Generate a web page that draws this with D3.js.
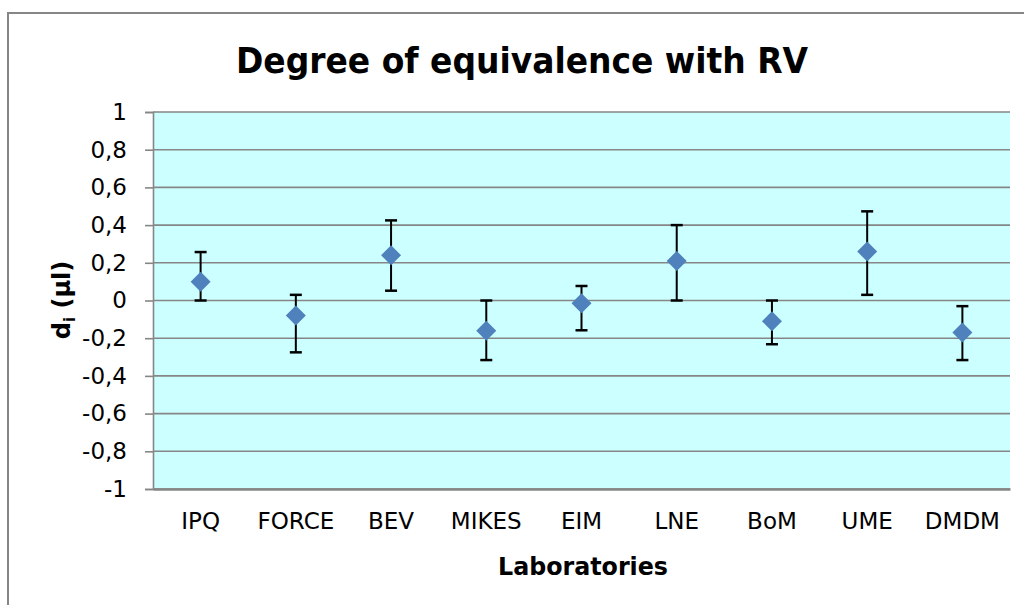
<!DOCTYPE html>
<html>
<head>
<meta charset="utf-8">
<script src="https://cdn.jsdelivr.net/npm/d3@7"></script>
<style>
  body { margin: 0; background: #fff; overflow: hidden; }
  text { font-family: "DejaVu Sans", Verdana, sans-serif; }
</style>
</head>
<body>
<script>
// data
const labs  = ['IPQ', 'FORCE', 'BEV', 'MIKES', 'EIM', 'LNE', 'BoM', 'UME', 'DMDM'];
const di    = [0.10, -0.08, 0.24, -0.16, -0.015, 0.21, -0.11, 0.26, -0.17];
const upper = [0.257, 0.03, 0.425, 0.0, 0.077, 0.40, 0.0, 0.473, -0.03];
const lower = [0.0, -0.275, 0.052, -0.316, -0.158, 0.0, -0.232, 0.03, -0.316];
const yTicks = [-1, -0.8, -0.6, -0.4, -0.2, 0, 0.2, 0.4, 0.6, 0.8, 1];

const width = 1024, height = 605;
const plot = {left: 153, right: 1010, top: 112, bottom: 489};

const svg = d3.select('body').append('svg')
    .attr('width', width)
    .attr('height', height);

// outer chart frame (runs off the right/bottom edge)
svg.append('rect')
    .attr('x', 8)
    .attr('y', 13)
    .attr('width', 1040)
    .attr('height', 640)
    .attr('fill', '#fff')
    .attr('stroke', '#868686')
    .attr('stroke-width', 2);

const x = d3.scaleBand()
    .domain(labs)
    .range([plot.left, plot.right]);

const y = d3.scaleLinear()
    .domain([-1, 1])
    .range([plot.bottom, plot.top]);

// plot area
svg.append('rect')
    .attr('x', plot.left)
    .attr('y', plot.top)
    .attr('width', plot.right - plot.left)
    .attr('height', plot.bottom - plot.top)
    .attr('fill', '#ccffff');

// gridlines
svg.append('g')
  .selectAll('line')
  .data(yTicks)
  .join('line')
    .attr('x1', plot.left)
    .attr('x2', plot.right)
    .attr('y1', d => y(d))
    .attr('y2', d => y(d))
    .attr('stroke', '#868686')
    .attr('stroke-width', 1.6);

// y axis
const yAxis = svg.append('g')
    .attr('transform', 'translate(' + plot.left + ',0)')
    .call(d3.axisLeft(y)
      .tickValues(yTicks)
      .tickSize(8)
      .tickPadding(18)
      .tickFormat(d => d3.format('.1~f')(d).replace('.', ',').replace('−', '-')));
yAxis.select('.domain')
    .attr('stroke', '#868686')
    .attr('stroke-width', 1.6);
yAxis.selectAll('.tick line')
    .attr('stroke', '#868686')
    .attr('stroke-width', 1.6);
yAxis.selectAll('.tick text')
    .attr('font-size', 23)
    .attr('fill', '#000')
    .style('font-family', '"DejaVu Sans", Verdana, sans-serif');

// x axis
const xAxis = svg.append('g')
    .attr('transform', 'translate(0,' + plot.bottom + ')')
    .call(d3.axisBottom(x).tickSize(0).tickPadding(24));
xAxis.select('.domain')
    .attr('stroke', '#868686')
    .attr('stroke-width', 2.4);
xAxis.selectAll('.tick text')
    .attr('font-size', 23)
    .attr('fill', '#000')
    .style('font-family', '"DejaVu Sans", Verdana, sans-serif');

// error bars
const cx = d => x(d) + x.bandwidth() / 2;
const bars = svg.append('g')
  .selectAll('g')
  .data(labs)
  .join('g');
bars.append('line')
    .attr('x1', cx).attr('x2', cx)
    .attr('y1', (d, i) => y(upper[i]))
    .attr('y2', (d, i) => y(lower[i]))
    .attr('stroke', '#000')
    .attr('stroke-width', 2);
bars.append('line')
    .attr('x1', d => cx(d) - 6).attr('x2', d => cx(d) + 6)
    .attr('y1', (d, i) => y(upper[i]))
    .attr('y2', (d, i) => y(upper[i]))
    .attr('stroke', '#000')
    .attr('stroke-width', 2.5);
bars.append('line')
    .attr('x1', d => cx(d) - 6).attr('x2', d => cx(d) + 6)
    .attr('y1', (d, i) => y(lower[i]))
    .attr('y2', (d, i) => y(lower[i]))
    .attr('stroke', '#000')
    .attr('stroke-width', 2.5);

// diamonds
svg.append('g')
  .selectAll('path')
  .data(labs)
  .join('path')
    .attr('d', 'M 0 -10 L 10 0 L 0 10 L -10 0 Z')
    .attr('transform', (d, i) => 'translate(' + cx(d) + ',' + y(di[i]) + ')')
    .attr('fill', '#4f81bd');

// titles
svg.append('text')
    .attr('x', 522)
    .attr('y', 73)
    .attr('text-anchor', 'middle')
    .attr('font-size', 35)
    .attr('font-weight', 'bold')
    .attr('textLength', 572)
    .attr('lengthAdjust', 'spacingAndGlyphs')
    .text('Degree of equivalence with RV');

svg.append('text')
    .attr('x', 583)
    .attr('y', 575)
    .attr('text-anchor', 'middle')
    .attr('font-size', 25)
    .attr('font-weight', 'bold')
    .attr('textLength', 170)
    .attr('lengthAdjust', 'spacingAndGlyphs')
    .text('Laboratories');

const yTitle = svg.append('text')
    .attr('transform', 'translate(70,300) rotate(-90)')
    .attr('text-anchor', 'middle')
    .attr('font-size', 24)
    .attr('font-weight', 'bold');
yTitle.append('tspan').text('d');
yTitle.append('tspan').attr('font-size', 15).attr('dy', 5).text('i');
yTitle.append('tspan').attr('dy', -5).text(' (µl)');
</script>
</body>
</html>
